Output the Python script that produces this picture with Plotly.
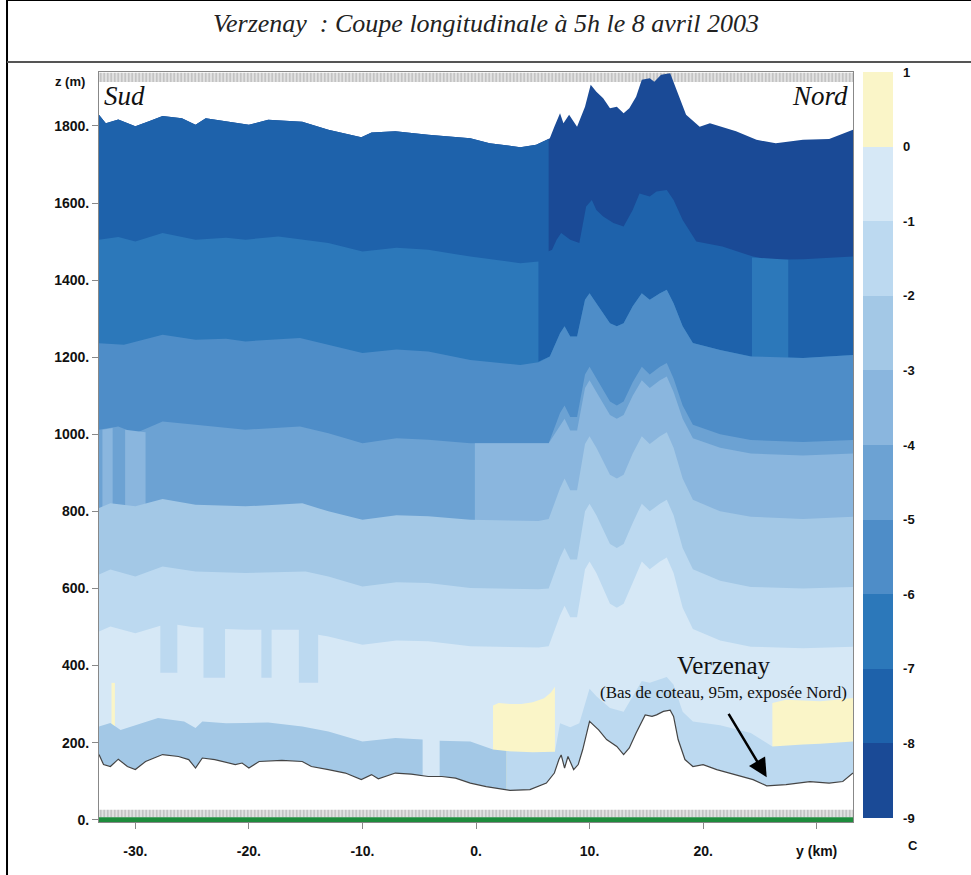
import plotly.graph_objects as go

# temperature classes of the colour bar (deg C), coldest first
LEVELS = [-9, -8, -7, -6, -5, -4, -3, -2, -1, 0, 1]
BAND_COLORS = ['#1A4A96', '#1E62AB', '#2C78BA', '#4E8DC8', '#6CA2D3',
               '#8AB6DE', '#A3C8E6', '#BCD9F0', '#D6E8F6', '#FAF5C8']

X_TICKS = [-30, -20, -10, 0, 10, 20, 30]
X_TICKTEXT = ['-30.', '-20.', '-10.', '0.', '10.', '20.', 'y (km)']
Z_TICKS = [0, 200, 400, 600, 800, 1000, 1200, 1400, 1600, 1800]

# top of the model domain (m)
TOP_X = [-33.2, -32.6, -31.5, -30.0, -28.8, -27.6, -25.9, -24.7, -23.8, -21.8,
         -20.0, -18.3, -15.3, -13.0, -10.1, -9.2, -7.1, -4.2, -0.5, 1.2,
         3.9, 5.3, 6.5, 6.9, 7.4, 7.7, 8.2, 8.9, 9.6, 10.1,
         10.6, 11.2, 11.8, 12.4, 13.0, 13.5, 14.1, 14.6, 15.3, 15.7,
         16.3, 17.1, 17.7, 18.5, 19.7, 20.6, 22.9, 24.7, 26.4, 28.8, 31.1, 33.2]
TOP_Z = [1829, 1807, 1817, 1799, 1812, 1826, 1820, 1803, 1820, 1811,
         1803, 1816, 1811, 1790, 1771, 1783, 1786, 1777, 1768, 1755,
         1745, 1751, 1768, 1798, 1833, 1807, 1829, 1798, 1850, 1907,
         1889, 1872, 1846, 1850, 1833, 1846, 1876, 1920, 1924, 1915,
         1933, 1937, 1889, 1829, 1798, 1807, 1786, 1764, 1755, 1764, 1766, 1790]

# lower edge of the -9/-8 cold core (north part)
CORE_X = [6.4, 6.4, 6.7, 7.1, 7.5, 8.3, 9.1, 9.7, 10.2, 10.6, 11.2, 12.1, 13.0,
          13.8, 14.4, 15.3, 15.9, 16.8, 17.4, 18.2, 19.4, 21.7, 24.4, 25.9, 28.8, 33.2]
CORE_Z = [1766, 1475, 1479, 1505, 1522, 1505, 1496, 1591, 1608, 1582, 1565, 1548, 1539,
          1582, 1625, 1617, 1630, 1634, 1608, 1556, 1500, 1487, 1461, 1453, 1454, 1461]

# common x sampling of the lower bands on the north side
RX = [7.4, 7.8, 8.3, 8.9, 9.6, 10.0, 10.6, 11.8, 12.4, 13.0, 13.8,
      14.6, 15.3, 16.2, 16.8, 17.4, 18.2, 19.1, 21.5, 24.2, 28.8, 33.2]

# top of the -7/-6 band
B1_X = [-33.2, -31.5, -30.0, -27.6, -24.7, -22.0, -20.3, -17.4, -13.0, -10.0,
        -7.0, -4.2, -0.5, 3.9, 5.5, 5.5, 6.5, 7.4, 7.8, 8.3,
        8.9, 9.6, 10.0, 10.6, 11.8, 12.4, 13.0, 13.8, 14.6, 15.3,
        16.2, 16.8, 17.4, 18.2, 19.1, 21.5, 24.3, 24.3, 27.5, 27.5, 28.8, 33.2]
B1_Z = [1505, 1512, 1500, 1522, 1505, 1510, 1505, 1513, 1496, 1474,
        1484, 1479, 1461, 1444, 1448, 1189, 1202, 1262, 1280, 1254,
        1254, 1349, 1366, 1340, 1288, 1280, 1288, 1332, 1366, 1349,
        1366, 1375, 1340, 1280, 1237, 1219, 1202, 1459, 1453, 1199, 1198, 1206]

# top of the -6/-5 band
B2_X = [-33.2, -31.0, -27.6, -24.7, -22.0, -20.3, -15.5, -13.0, -10.0, -7.0,
        -4.2, -0.5, 3.9, 5.5, 6.5] + RX
B2_Z = [1236, 1232, 1258, 1245, 1248, 1241, 1250, 1232, 1211, 1220,
        1215, 1193, 1180, 1187, 1202,
        1262, 1280, 1254, 1254, 1349, 1366, 1340, 1288, 1280, 1288, 1332,
        1366, 1349, 1366, 1375, 1340, 1280, 1237, 1219, 1202, 1198, 1206]

# top of the -5/-4 band
B3_X = [-33.2, -31.5, -30.0, -27.6, -24.7, -22.0, -20.3, -15.5, -13.0, -10.0,
        -7.0, -4.2, -0.5, 6.4] + RX
B3_Z = [1012, 1020, 1003, 1033, 1025, 1018, 1012, 1020, 1003, 977,
        990, 986, 977, 977,
        1055, 1075, 1045, 1045, 1155, 1175, 1145, 1085, 1075, 1085, 1135,
        1175, 1155, 1175, 1185, 1145, 1075, 1025, 1000, 985, 980, 985]

# top of the -4/-3 band (vertical streaks in the south)
B4_X = [-33.2, -32.9, -32.9, -32.0, -32.0, -30.9, -30.9, -29.1, -29.1, -27.6,
        -24.7, -20.3, -15.3, -13.0, -10.0, -4.2, -0.1, -0.1, 6.4] + RX
B4_Z = [803, 806, 1012, 1016, 812, 808, 1012, 1005, 810, 826,
        811, 807, 815, 794, 772, 781, 772, 977, 977,
        1020, 1040, 1010, 1010, 1120, 1140, 1110, 1050, 1040, 1050, 1100,
        1140, 1120, 1140, 1150, 1110, 1040, 990, 965, 950, 945, 950]

# top of the -3/-2 band
B5_X = [-33.2, -32.2, -30.0, -27.6, -24.7, -20.3, -15.3, -13.0, -10.0, -7.0,
        -4.2, -0.5, 5.5, 6.4] + RX
B5_Z = [809, 821, 813, 832, 817, 813, 821, 800, 778, 790,
        787, 778, 775, 780,
        860, 885, 855, 855, 975, 995, 965, 895, 885, 895, 950,
        995, 975, 995, 1005, 965, 885, 830, 800, 786, 780, 786]

# top of the -2/-1 band
B6_X = [-33.2, -32.2, -30.0, -27.6, -24.7, -20.3, -15.0, -13.0, -10.0, -7.0,
        -4.2, -0.5, 5.5, 6.4] + RX
B6_Z = [636, 649, 631, 657, 644, 640, 644, 631, 605, 616,
        614, 601, 598, 600,
        680, 705, 675, 675, 800, 820, 790, 715, 705, 715, 770,
        820, 800, 820, 830, 790, 705, 650, 620, 604, 600, 604]

# top of the -1/0 band
B7_X = [-33.2, -32.2, -30.0, -27.8, -27.8, -26.3, -26.3, -25.0, -24.0, -24.0,
        -22.1, -22.1, -20.3, -18.9, -18.9, -18.0, -18.0, -15.6, -15.6, -13.9,
        -13.9, -13.0, -10.0, -7.0, -4.2, -0.5, 5.5, 6.4] + RX
B7_Z = [488, 501, 484, 503, 381, 381, 506, 500, 498, 368,
        368, 495, 493, 493, 368, 368, 493, 493, 355, 355,
        480, 475, 454, 465, 463, 450, 447, 450,
        530, 555, 525, 525, 650, 670, 640, 560, 550, 560, 615,
        670, 650, 670, 680, 640, 550, 495, 465, 449, 445, 449]

# warm (0/+1) pockets
WARM_W_X = [-32.1, -31.8]
WARM_W_Z = [355, 355]
WARM_M_X = [1.5, 2.0, 3.0, 4.0, 5.0, 6.0, 6.6, 6.95]
WARM_M_Z = [296, 303, 300, 300, 305, 315, 330, 345]
WARM_E_X = [26.1, 27.3, 28.8, 30.3, 31.8, 33.2]
WARM_E_Z = [303, 311, 309, 307, 311, 316]

# cold layer along the ground: -3/-2 in the south, -2/-1 in the north
SURF_S_X = [-33.2, -32.2, -31.3, -29.5, -28.0, -25.7, -24.7, -24.1, -22.0, -20.3,
            -18.3, -15.3, -13.0, -10.0, -7.1, -4.7, -4.7, -3.2, -3.2, -0.5, 1.5, 2.7]
SURF_S_Z = [242, 251, 233, 250, 264, 255, 238, 255, 250, 251,
            252, 242, 229, 203, 212, 208, 100, 100, 205, 203, 182, 178]
SURF_N_X = [2.7, 5.0, 6.95, 7.4, 8.3, 9.1, 9.6, 10.0, 10.6, 11.8, 13.0, 13.8, 14.6,
            15.3, 16.2, 16.8, 17.4, 18.2, 19.1, 21.5, 24.2, 26.1, 28.8, 30.3, 33.2]
SURF_N_Z = [178, 175, 176, 250, 240, 250, 300, 340, 320, 290, 280, 320, 360,
            355, 365, 370, 350, 280, 255, 245, 225, 190, 195, 197, 203]

# terrain height (m)
TER_X = [-33.2, -32.8, -32.2, -31.5, -30.7, -30.0, -29.1, -27.6, -26.2, -25.3,
         -24.7, -24.1, -23.0, -21.2, -20.6, -20.0, -19.1, -17.1, -15.3, -14.5,
         -13.0, -11.5, -10.1, -9.2, -8.6, -7.1, -5.7, -4.2, -3.0, -1.8,
         -0.5, 0.9, 3.0, 4.75, 6.2, 6.9, 7.3, 7.5, 7.8, 8.1,
         8.6, 9.0, 9.4, 10.0, 10.8, 11.5, 12.4, 13.0, 13.5, 14.1,
         14.9, 15.5, 15.9, 16.5, 17.1, 17.4, 17.8, 18.4, 19.1, 20.0,
         21.2, 22.9, 24.4, 25.6, 27.3, 29.4, 31.1, 32.3, 33.2]
TER_Z = [169, 143, 138, 157, 138, 130, 151, 169, 164, 156,
         134, 160, 156, 143, 147, 134, 151, 154, 151, 138,
         130, 121, 104, 117, 106, 121, 118, 112, 112, 108,
         95, 86, 76, 78, 95, 121, 156, 168, 134, 164,
         130, 143, 182, 255, 233, 208, 190, 169, 186, 225,
         272, 268, 272, 281, 284, 268, 208, 156, 138, 143,
         130, 117, 104, 88, 91, 99, 95, 99, 121]

XMIN, XMAX = -33.2, 33.2
BOLD = dict(family='Liberation Sans, Arial', size=14, color='#111', weight='bold')
SERIF = 'Liberation Serif, Times New Roman, serif'
HATCH = dict(shape='|', size=3.5, solidity=0.35, fgcolor='#8c8c8c', bgcolor='#e2e2e2')


def band(x, z, color):
    return go.Scatter(x=x, y=z, mode='lines', fill='tozeroy', fillcolor=color,
                      line=dict(width=0, color=color), hoverinfo='skip', showlegend=False)


def ruler(z0, z1):
    # hatched strip along the top / bottom frame
    return go.Scatter(x=[XMIN, XMAX, XMAX, XMIN, XMIN], y=[z0, z0, z1, z1, z0], mode='lines',
                      fill='toself', fillcolor='#e2e2e2', fillpattern=HATCH,
                      line=dict(width=0), hoverinfo='skip', showlegend=False)


fig = go.Figure()
fig.add_trace(ruler(1914, 1938))

# paint the bands from the coldest (top) downwards, each one to the ground
cut = TOP_X.index(5.3) + 1
fig.add_trace(band(TOP_X, TOP_Z, BAND_COLORS[0]))
fig.add_trace(band(TOP_X[:cut] + CORE_X, TOP_Z[:cut] + CORE_Z, BAND_COLORS[1]))
fig.add_trace(band(B1_X, B1_Z, BAND_COLORS[2]))
fig.add_trace(band(B2_X, B2_Z, BAND_COLORS[3]))
fig.add_trace(band(B3_X, B3_Z, BAND_COLORS[4]))
fig.add_trace(band(B4_X, B4_Z, BAND_COLORS[5]))
fig.add_trace(band(B5_X, B5_Z, BAND_COLORS[6]))
fig.add_trace(band(B6_X, B6_Z, BAND_COLORS[7]))
fig.add_trace(band(B7_X, B7_Z, BAND_COLORS[8]))
for wx, wz in [(WARM_W_X, WARM_W_Z), (WARM_M_X, WARM_M_Z), (WARM_E_X, WARM_E_Z)]:
    fig.add_trace(band(wx, wz, BAND_COLORS[9]))
fig.add_trace(band(SURF_S_X, SURF_S_Z, BAND_COLORS[6]))
fig.add_trace(band(SURF_N_X, SURF_N_Z, BAND_COLORS[7]))

# ground
fig.add_trace(go.Scatter(x=TER_X, y=TER_Z, mode='lines', fill='tozeroy', fillcolor='white',
                         line=dict(color='#444', width=1.2), hoverinfo='skip', showlegend=False))
fig.add_trace(ruler(6, 26))
fig.add_trace(go.Scatter(x=[XMIN, XMAX], y=[0, 0], mode='lines',
                         line=dict(color='#1E8C3C', width=5), hoverinfo='skip', showlegend=False))

# colour bar
cscale = []
for i, c in enumerate(BAND_COLORS):
    cscale += [[i / len(BAND_COLORS), c], [(i + 1) / len(BAND_COLORS), c]]
fig.add_trace(go.Scatter(
    x=[XMIN - 10, XMIN - 10], y=[-100, -100], mode='markers', showlegend=False, hoverinfo='skip',
    marker=dict(color=[LEVELS[0], LEVELS[-1]], colorscale=cscale, cmin=LEVELS[0], cmax=LEVELS[-1],
                size=2, showscale=True,
                colorbar=dict(x=1.0133, xanchor='left', y=1.0, yanchor='top', len=0.995,
                              thickness=30, xpad=0, ypad=0, outlinewidth=0,
                              tickvals=LEVELS, ticktext=[str(v) for v in LEVELS],
                              ticks='outside', ticklen=8, tickcolor='rgba(0,0,0,0)',
                              tickfont=dict(BOLD, size=13)))))

fig.update_layout(
    width=971, height=875,
    margin=dict(l=99, r=118, t=72, b=53),
    paper_bgcolor='white', plot_bgcolor='white',
    xaxis=dict(range=[XMIN, XMAX], tickvals=X_TICKS, ticktext=X_TICKTEXT, ticks='outside',
               ticklen=6, tickcolor='#888', tickfont=BOLD, ticklabelstandoff=10,
               showgrid=False, zeroline=False, showline=True, linecolor='#888', mirror=True),
    yaxis=dict(range=[-6, 1940], tickvals=Z_TICKS, ticktext=[f'{v}.' for v in Z_TICKS],
               ticks='outside', ticklen=6, tickcolor='#888', tickfont=BOLD,
               showgrid=False, zeroline=False, showline=True, linecolor='#888', mirror=True),
    showlegend=False,
)

# text
note = dict(xref='paper', yref='paper', showarrow=False, xanchor='center', yanchor='middle')
fig.add_annotation(text='Verzenay  : Coupe longitudinale à 5h le 8 avril 2003', x=0.513, y=1.064,
                   font=dict(family=SERIF, size=26, color='#222', style='italic'), **note)
fig.add_annotation(dict(note, xanchor='left'), text='Sud', x=0.004, y=0.968,
                   font=dict(family=SERIF, size=27, color='#111', style='italic'))
fig.add_annotation(dict(note, xanchor='right'), text='Nord', x=0.996, y=0.968,
                   font=dict(family=SERIF, size=27, color='#111', style='italic'))
fig.add_annotation(text='z (m)', x=-0.038, y=0.987, font=dict(BOLD, size=13), **note)
fig.add_annotation(text='C', x=1.079, y=-0.031, font=dict(BOLD, size=13), **note)
fig.add_annotation(text='Verzenay', x=0.8276, y=0.2093,
                   font=dict(family=SERIF, size=25, color='#111'), **note)
fig.add_annotation(text='(Bas de coteau, 95m, exposée Nord)', x=0.8276, y=0.1733,
                   font=dict(family=SERIF, size=17, color='#111'), **note)
fig.add_annotation(text='', x=25.6, y=110, ax=-39, ay=-65, showarrow=True, arrowhead=2,
                   arrowsize=1.5, arrowwidth=2.5, arrowcolor='black')

# page frame around the title box
fig.add_shape(type='line', xref='paper', yref='paper', x0=-0.122, x1=-0.122, y0=-0.08, y1=1.096,
              line=dict(color='black', width=2))
fig.add_shape(type='line', xref='paper', yref='paper', x0=-0.122, x1=1.16, y0=1.096, y1=1.096,
              line=dict(color='black', width=2))
fig.add_shape(type='line', xref='paper', yref='paper', x0=-0.122, x1=1.16, y0=1.0133, y1=1.0133,
              line=dict(color='#555', width=2))

fig.write_html("out.html", config={'displayModeBar': False},
               post_script="document.body.style.margin='0';")
